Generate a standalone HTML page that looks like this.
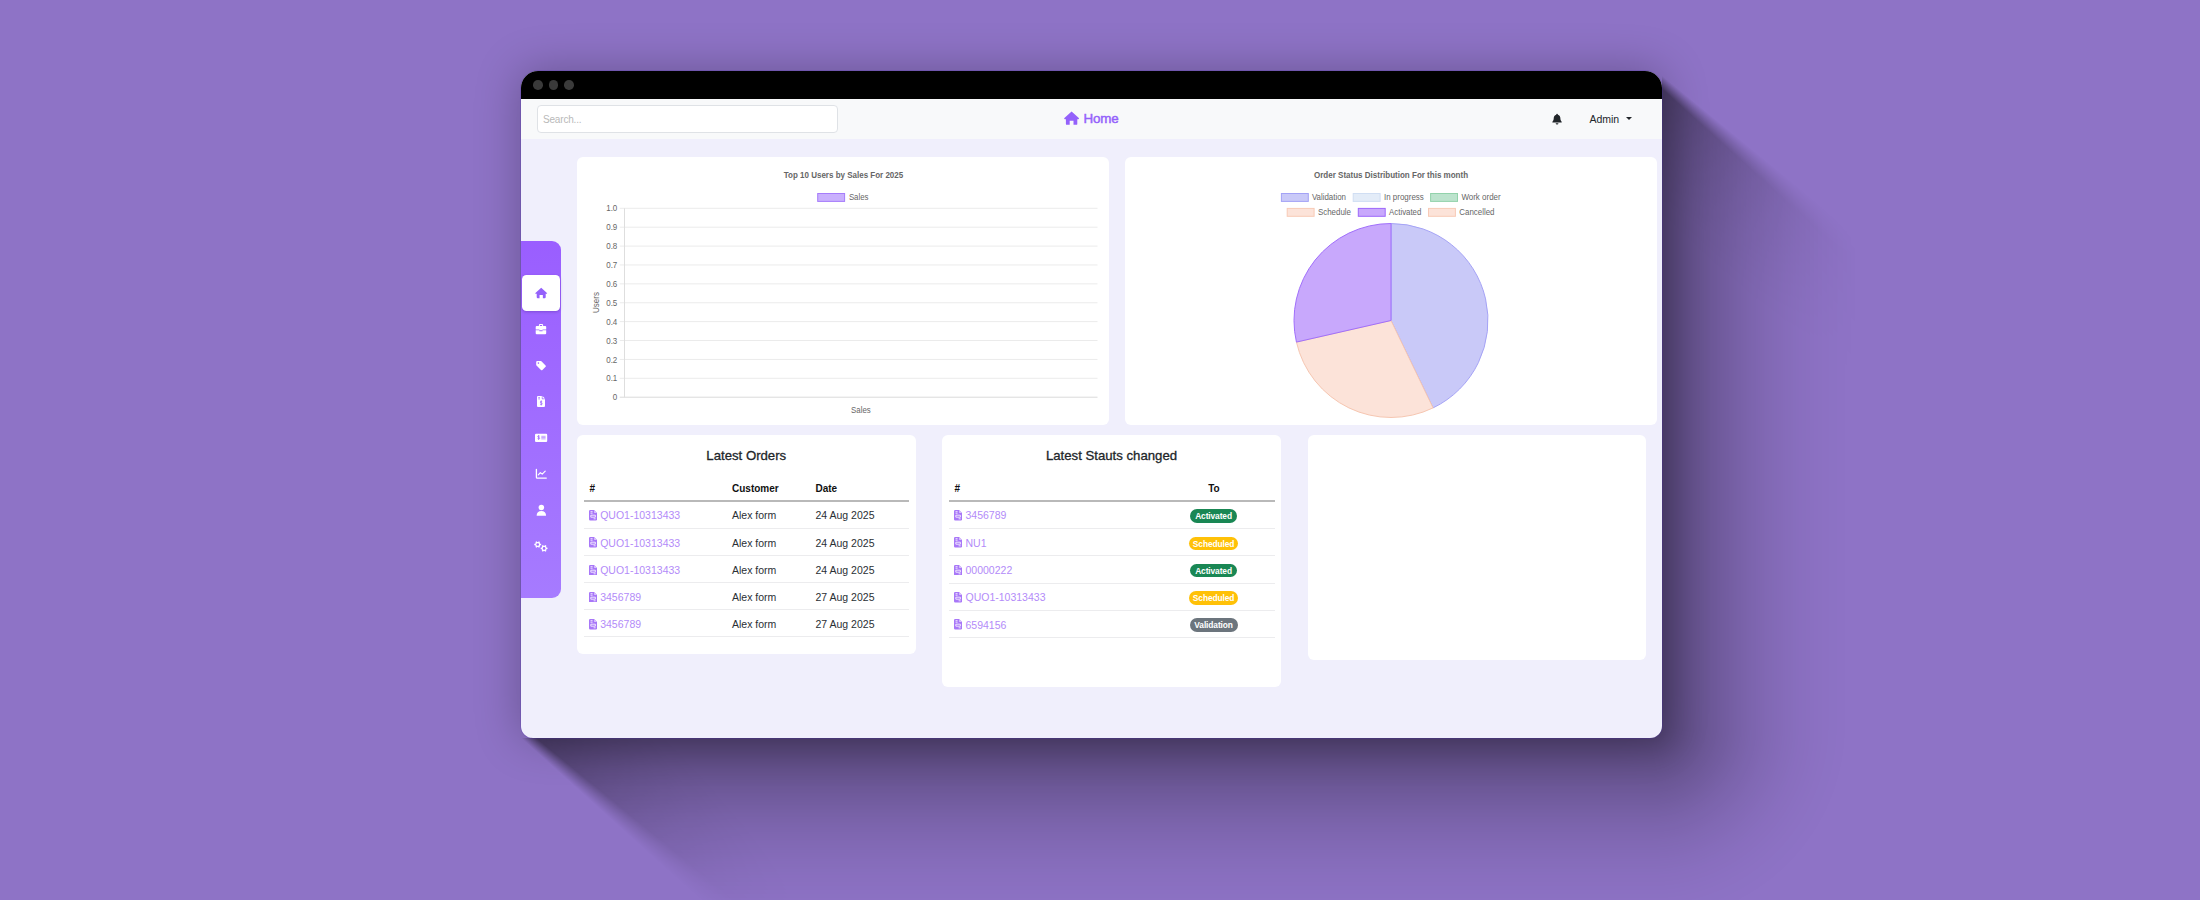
<!DOCTYPE html>
<html>
<head>
<meta charset="utf-8">
<style>
*{box-sizing:border-box;margin:0;padding:0}
html,body{width:2200px;height:900px;overflow:hidden}
body{background:#8e73c6;font-family:"Liberation Sans",sans-serif;position:relative}
#shadow{position:absolute;left:0;top:0;width:2200px;height:900px}
#win{position:absolute;left:521px;top:71px;width:1141px;height:667px;border-radius:17px 17px 12px 12px;overflow:hidden;background:#f0effc}
#edge{position:absolute;left:521px;top:71px;width:1141px;height:667px;border-radius:17px 17px 12px 12px;box-shadow:0 0 0 .7px rgba(72,44,180,.3)}
#tbar{position:absolute;left:0;top:0;width:100%;height:28px;background:#000}
.dot{position:absolute;top:9.15px;width:9.7px;height:9.7px;border-radius:50%;background:#3a3a3a}
#hdr{position:absolute;left:0;top:28px;width:100%;height:40px;background:#f8f9fa}
#search{position:absolute;left:16px;top:6.3px;width:301px;height:27.4px;border:1px solid #dfe2e6;border-radius:4px;background:#fff;color:#b9b9b9;font-size:10px;letter-spacing:-.18px;line-height:27.6px;padding-left:5px}
#home{position:absolute;left:562.4px;top:10px;height:20px;color:#9461fb;font-size:13.4px;letter-spacing:-.1px;-webkit-text-stroke:.45px #9461fb;line-height:20px;white-space:nowrap}
#side{position:absolute;left:0;top:170px;width:40px;height:357px;border-radius:0 9px 9px 0;background:linear-gradient(180deg,#9a5eff 0%,#a67bff 100%)}
#side .act{position:absolute;left:1px;top:34px;width:38px;height:36px;background:#fff;border-radius:4.5px;box-shadow:0 1px 3px rgba(60,20,120,.3)}
#side svg{position:absolute}
.card{position:absolute;background:#fff;border-radius:6px}
.t{position:absolute;white-space:nowrap;line-height:14px;height:14px;font-size:10.5px;color:#2a2f34}
.h{font-weight:bold;color:#111;font-size:10px;margin-top:.6px}
.lk{color:#b38bf9}
.ttl{position:absolute;white-space:nowrap;font-size:13.2px;line-height:18px;height:18px;color:#212529;text-align:center;-webkit-text-stroke:.3px #212529}
.ln{position:absolute;height:1px;background:#ececee}
.hl{position:absolute;height:2px;background:#b9b9b9}
.bd{position:absolute;height:13.5px;border-radius:7px;color:#fff;font-size:8.4px;letter-spacing:-.1px;font-weight:bold;line-height:15px;text-align:center;white-space:nowrap}
.ic{position:absolute}
</style>
</head>
<body>
<div style="position:absolute;left:521px;top:71px;width:1141px;height:667px;border-radius:17px 17px 12px 12px;box-shadow:0 0 44px 2px rgba(0,0,0,.25)"></div><div style="position:absolute;left:0;top:0;width:2200px;height:900px;-webkit-mask-image:conic-gradient(from 0deg at 1507.2px -51px,transparent 0deg,transparent 129.3deg,#000 132.1deg,#000 360deg);mask-image:conic-gradient(from 0deg at 1507.2px -51px,transparent 0deg,transparent 129.3deg,#000 132.1deg,#000 360deg);"><div style="position:absolute;left:0;top:0;width:2200px;height:900px;-webkit-mask-image:conic-gradient(from 0deg at 376px 606.8px,#000 0deg,#000 129.3deg,transparent 132.1deg,transparent 360deg);mask-image:conic-gradient(from 0deg at 376px 606.8px,#000 0deg,#000 129.3deg,transparent 132.1deg,transparent 360deg);"><div style="position:absolute;left:1642px;top:71px;width:217px;height:655px;clip-path:polygon(20px 0,100% 0,100% 100%,0 100%,0 14px,20px 14px);background:linear-gradient(to right,rgba(0,0,0,0.42) 0px,rgba(0,0,0,0.4200) 20.0px,rgba(0,0,0,0.3857) 28.1px,rgba(0,0,0,0.3529) 36.2px,rgba(0,0,0,0.3216) 44.4px,rgba(0,0,0,0.2917) 52.5px,rgba(0,0,0,0.2632) 60.6px,rgba(0,0,0,0.2362) 68.8px,rgba(0,0,0,0.2107) 76.9px,rgba(0,0,0,0.1867) 85.0px,rgba(0,0,0,0.1641) 93.1px,rgba(0,0,0,0.1429) 101.2px,rgba(0,0,0,0.1232) 109.4px,rgba(0,0,0,0.1050) 117.5px,rgba(0,0,0,0.0882) 125.6px,rgba(0,0,0,0.0729) 133.8px,rgba(0,0,0,0.0591) 141.9px,rgba(0,0,0,0.0467) 150.0px,rgba(0,0,0,0.0357) 158.1px,rgba(0,0,0,0.0262) 166.2px,rgba(0,0,0,0.0182) 174.4px,rgba(0,0,0,0.0117) 182.5px,rgba(0,0,0,0.0066) 190.6px,rgba(0,0,0,0.0029) 198.8px,rgba(0,0,0,0.0007) 206.9px,rgba(0,0,0,0.0000) 215.0px)"></div><div style="position:absolute;left:521px;top:718px;width:1129px;height:182px;clip-path:polygon(10px 0,100% 0,100% 100%,0 100%,0 20px,10px 20px);background:linear-gradient(to bottom,rgba(0,0,0,0.42) 0px,rgba(0,0,0,0.4200) 20.0px,rgba(0,0,0,0.3857) 28.1px,rgba(0,0,0,0.3529) 36.2px,rgba(0,0,0,0.3216) 44.4px,rgba(0,0,0,0.2917) 52.5px,rgba(0,0,0,0.2632) 60.6px,rgba(0,0,0,0.2362) 68.8px,rgba(0,0,0,0.2107) 76.9px,rgba(0,0,0,0.1867) 85.0px,rgba(0,0,0,0.1641) 93.1px,rgba(0,0,0,0.1429) 101.2px,rgba(0,0,0,0.1232) 109.4px,rgba(0,0,0,0.1050) 117.5px,rgba(0,0,0,0.0882) 125.6px,rgba(0,0,0,0.0729) 133.8px,rgba(0,0,0,0.0591) 141.9px,rgba(0,0,0,0.0467) 150.0px,rgba(0,0,0,0.0357) 158.1px,rgba(0,0,0,0.0262) 166.2px,rgba(0,0,0,0.0182) 174.4px,rgba(0,0,0,0.0117) 182.5px,rgba(0,0,0,0.0066) 190.6px,rgba(0,0,0,0.0029) 198.8px,rgba(0,0,0,0.0007) 206.9px,rgba(0,0,0,0.0000) 215.0px)"></div><div style="position:absolute;left:1650px;top:726px;width:209px;height:174px;background:radial-gradient(circle at 0 0,rgba(0,0,0,0.42) 0px,rgba(0,0,0,0.4200) 12.0px,rgba(0,0,0,0.3857) 20.1px,rgba(0,0,0,0.3529) 28.2px,rgba(0,0,0,0.3216) 36.4px,rgba(0,0,0,0.2917) 44.5px,rgba(0,0,0,0.2632) 52.6px,rgba(0,0,0,0.2362) 60.8px,rgba(0,0,0,0.2107) 68.9px,rgba(0,0,0,0.1867) 77.0px,rgba(0,0,0,0.1641) 85.1px,rgba(0,0,0,0.1429) 93.2px,rgba(0,0,0,0.1232) 101.4px,rgba(0,0,0,0.1050) 109.5px,rgba(0,0,0,0.0882) 117.6px,rgba(0,0,0,0.0729) 125.8px,rgba(0,0,0,0.0591) 133.9px,rgba(0,0,0,0.0467) 142.0px,rgba(0,0,0,0.0357) 150.1px,rgba(0,0,0,0.0262) 158.2px,rgba(0,0,0,0.0182) 166.4px,rgba(0,0,0,0.0117) 174.5px,rgba(0,0,0,0.0066) 182.6px,rgba(0,0,0,0.0029) 190.8px,rgba(0,0,0,0.0007) 198.9px,rgba(0,0,0,0.0000) 207.0px)"></div><div style="position:absolute;left:0;top:0;width:2200px;height:900px;-webkit-mask-image:linear-gradient(225deg,rgba(0,0,0,1.000) 430.6px,rgba(0,0,0,0.845) 442.1px,rgba(0,0,0,0.700) 453.6px,rgba(0,0,0,0.565) 465.1px,rgba(0,0,0,0.442) 476.6px,rgba(0,0,0,0.330) 488.1px,rgba(0,0,0,0.231) 499.6px,rgba(0,0,0,0.146) 511.1px,rgba(0,0,0,0.076) 522.6px,rgba(0,0,0,0.025) 534.1px,rgba(0,0,0,0.000) 545.6px);mask-image:linear-gradient(225deg,rgba(0,0,0,1.000) 430.6px,rgba(0,0,0,0.845) 442.1px,rgba(0,0,0,0.700) 453.6px,rgba(0,0,0,0.565) 465.1px,rgba(0,0,0,0.442) 476.6px,rgba(0,0,0,0.330) 488.1px,rgba(0,0,0,0.231) 499.6px,rgba(0,0,0,0.146) 511.1px,rgba(0,0,0,0.076) 522.6px,rgba(0,0,0,0.025) 534.1px,rgba(0,0,0,0.000) 545.6px);"><div style="position:absolute;left:1642px;top:71px;width:217px;height:829px;clip-path:polygon(20px 0,100% 0,100% 100%,0 100%,0 14px,20px 14px);background:linear-gradient(to right,rgba(0,0,0,0.17) 0px,rgba(0,0,0,0.1700) 20.0px,rgba(0,0,0,0.1558) 36.2px,rgba(0,0,0,0.1417) 52.5px,rgba(0,0,0,0.1275) 68.8px,rgba(0,0,0,0.1133) 85.0px,rgba(0,0,0,0.0992) 101.2px,rgba(0,0,0,0.0850) 117.5px,rgba(0,0,0,0.0708) 133.8px,rgba(0,0,0,0.0567) 150.0px,rgba(0,0,0,0.0425) 166.2px,rgba(0,0,0,0.0283) 182.5px,rgba(0,0,0,0.0142) 198.8px,rgba(0,0,0,0.0000) 215.0px)"></div></div><div style="position:absolute;left:0;top:0;width:2200px;height:900px;-webkit-mask-image:linear-gradient(45deg,rgba(0,0,0,1.000) 483.4px,rgba(0,0,0,0.845) 494.9px,rgba(0,0,0,0.700) 506.4px,rgba(0,0,0,0.565) 517.9px,rgba(0,0,0,0.442) 529.4px,rgba(0,0,0,0.330) 540.9px,rgba(0,0,0,0.231) 552.4px,rgba(0,0,0,0.146) 563.9px,rgba(0,0,0,0.076) 575.4px,rgba(0,0,0,0.025) 586.9px,rgba(0,0,0,0.000) 598.4px);mask-image:linear-gradient(45deg,rgba(0,0,0,1.000) 483.4px,rgba(0,0,0,0.845) 494.9px,rgba(0,0,0,0.700) 506.4px,rgba(0,0,0,0.565) 517.9px,rgba(0,0,0,0.442) 529.4px,rgba(0,0,0,0.330) 540.9px,rgba(0,0,0,0.231) 552.4px,rgba(0,0,0,0.146) 563.9px,rgba(0,0,0,0.076) 575.4px,rgba(0,0,0,0.025) 586.9px,rgba(0,0,0,0.000) 598.4px);"><div style="position:absolute;left:521px;top:718px;width:1400px;height:182px;clip-path:polygon(10px 0,100% 0,100% 100%,0 100%,0 20px,10px 20px);background:linear-gradient(to bottom,rgba(0,0,0,0.17) 0px,rgba(0,0,0,0.1700) 20.0px,rgba(0,0,0,0.1558) 36.2px,rgba(0,0,0,0.1417) 52.5px,rgba(0,0,0,0.1275) 68.8px,rgba(0,0,0,0.1133) 85.0px,rgba(0,0,0,0.0992) 101.2px,rgba(0,0,0,0.0850) 117.5px,rgba(0,0,0,0.0708) 133.8px,rgba(0,0,0,0.0567) 150.0px,rgba(0,0,0,0.0425) 166.2px,rgba(0,0,0,0.0283) 182.5px,rgba(0,0,0,0.0142) 198.8px,rgba(0,0,0,0.0000) 215.0px)"></div></div></div></div>
<div id="edge"></div>
<div id="win">
<div id="tbar"><div class="dot" style="left:11.85px"></div><div class="dot" style="left:27.6px"></div><div class="dot" style="left:43.35px"></div></div>
<div id="hdr">
<div id="search">Search...</div>
<div id="home"><svg style="position:absolute;left:-19.5px;top:1.9px" width="15.2" height="14.1" viewBox="0 0 16 14" preserveAspectRatio="none"><path d="M8 .4 15.600 7a.7.7 0 0 1-.5 1.200H14v4.600a.9.9 0 0 1-.9.9H10V9.600H6v4.100H2.900a.9.9 0 0 1-.9-.9V8.200H.9A.7.7 0 0 1 .4 7z" fill="#9461fb"/></svg>Home</div>
<svg style="position:absolute;left:1030px;top:13px" width="12" height="13" viewBox="1551 112 12 13"><path d="M1557.050 113.700c.5 0 .8.300.8.700v.3c1.600.4 2.500 1.700 2.500 3.400 0 2 .6 3 1.300 3.600.3.300.1.900-.4.900h-8.400c-.5 0-.7-.6-.4-.9.700-.600 1.300-1.600 1.300-3.600 0-1.700.9-3 2.500-3.400v-.3c0-.4.300-.7.800-.7z" fill="#212529"/><path d="M1555.650 123.200h2.800a1.400 1.400 0 0 1-2.800 0z" fill="#212529"/></svg>
<div style="position:absolute;left:1068.500px;top:13.400px;font-size:10.500px;line-height:14px;color:#212529;white-space:nowrap;letter-spacing:-.05px">Admin</div>
<div style="position:absolute;left:1105.200px;top:18.400px;width:0;height:0;border-left:3px solid transparent;border-right:3px solid transparent;border-top:3.200px solid #212529"></div>
</div>
<div id="side"><div class="act"></div><svg style="left:0;top:0" width="40" height="357" viewBox="521 241 40 357">
<g transform="translate(535.2 287.5) scale(0.75 0.771)"><path d="M8 .3 15.700 7a.7.7 0 0 1-.5 1.200H14v4.600a1 1 0 0 1-1 1H10.200V9.700H5.800v4.100H3a1 1 0 0 1-1-1V8.200H.8A.7.7 0 0 1 .3 7z" fill="#9461fb"/></g>
<g fill="#fff"><path d="M538.900 326.300v-1.300a1.100 1.100 0 0 1 1.100-1.100h2a1.100 1.100 0 0 1 1.100 1.100v1.300h-1v-1.200a.2.200 0 0 0-.2-.2h-1.800a.2.200 0 0 0-.2.200v1.200z"/><path d="M536.700 326.100h8.500a1 1 0 0 1 1 1v2.300h-3.700v.9h-3.100v-.9h-3.700v-2.300a1 1 0 0 1 1-1z"/><path d="M535.700 330.300h3.700v.9h3.100v-.9h3.700v2.900a1 1 0 0 1-1 1h-8.500a1 1 0 0 1-1-1z"/></g>
<path d="M536.200 361.900a1 1 0 0 1 1-1h3.500a1 1 0 0 1 .7.300l4.200 4.200a1 1 0 0 1 0 1.400l-3.200 3.200a1 1 0 0 1-1.400 0l-4.500-4.500a1 1 0 0 1-.3-.7z" fill="#fff"/><circle cx="538.4" cy="363.1" r=".8" fill="#9d65ff"/>
<path d="M538 396.100h3.800v2.300a.9.900 0 0 0 .9.900h2.300v6.700a1 1 0 0 1-1 1h-6a1 1 0 0 1-1-1v-8.900a1 1 0 0 1 1-1z" fill="#fff"/><path d="M542.500 396.100l2.500 2.500h-2.200a.3.300 0 0 1-.3-.3z" fill="#fff"/>
<path d="M538.200 397.600h1.800M538.200 398.900h1.800" stroke="#9d65ff" stroke-width=".7" fill="none"/>
<path d="M542.200 401.700c-.3-.5-1.900-.6-1.900.4 0 1.100 2 .6 2 1.700 0 1-1.700 1-2.100.3M541.200 400.500v4.900" stroke="#9d65ff" stroke-width=".8" fill="none"/>
<rect x="535" y="433.800" width="12.200" height="8.200" rx="1.100" fill="#fff"/>
<path d="M539.600 436.300c-.3-.5-1.900-.6-1.900.3 0 1 2 .6 2 1.600 0 .9-1.700.9-2.100.3M538.600 435.200v4.600" stroke="#9d65ff" stroke-width=".8" fill="none"/>
<path d="M541.300 436.300h4.300M541.300 437.600h4.300M541.300 438.900h4.300" stroke="#9d65ff" stroke-width=".75" fill="none" opacity=".85"/>
<path d="M536.400 469.300v7.900a.9.900 0 0 0 .9.900h9" stroke="#fff" stroke-width="1.300" fill="none" stroke-linecap="round"/>
<path d="M538.300 474.900l2.100-2.300 1.800 1.500 3-3" stroke="#fff" stroke-width="1.200" fill="none" stroke-linecap="round" stroke-linejoin="round"/>
<circle cx="541.350" cy="507.500" r="2.750" fill="#fff"/><path d="M536.600 515.700c0-2.800 1.800-4.600 4.750-4.600s4.750 1.800 4.750 4.600z" fill="#fff"/>
<path d="M541.13 543.80L541.13 545.20L540.17 545.33L539.65 546.22L540.02 547.12L538.81 547.82L538.22 547.05L537.18 547.05L536.59 547.82L535.38 547.12L535.75 546.22L535.23 545.33L534.27 545.20L534.27 543.80L535.23 543.67L535.75 542.78L535.38 541.88L536.59 541.18L537.18 541.95L538.22 541.95L538.81 541.18L540.02 541.88L539.65 542.78L540.17 543.67Z" fill="#fff"/><circle cx="537.7" cy="544.5" r="1.3" fill="#9d65ff"/>
<path d="M547.53 547.70L547.53 549.10L546.57 549.23L546.05 550.12L546.42 551.02L545.21 551.72L544.62 550.95L543.58 550.95L542.99 551.72L541.78 551.02L542.15 550.12L541.63 549.23L540.67 549.10L540.67 547.70L541.63 547.57L542.15 546.68L541.78 545.78L542.99 545.08L543.58 545.85L544.62 545.85L545.21 545.08L546.42 545.78L546.05 546.68L546.57 547.57Z" fill="#fff"/><circle cx="544.1" cy="548.4" r="1.3" fill="#9d65ff"/>
</svg></div>
<div class="card" style="left:56.0px;top:86.0px;width:532.0px;height:267.6px"></div>
<div class="card" style="left:604.0px;top:86.0px;width:531.6px;height:267.6px"></div>
<div class="card" style="left:56.0px;top:364.0px;width:338.5px;height:219.0px"></div>
<div class="card" style="left:421.0px;top:364.0px;width:339.0px;height:252.0px"></div>
<div class="card" style="left:786.5px;top:364.0px;width:338.5px;height:224.5px"></div>
<div class="ttl" style="left:56px;top:375.7px;width:338.5px">Latest Orders</div>
<div class="t h" style="left:68.4px;top:410.3px;">#</div>
<div class="t h" style="left:211.0px;top:410.3px;">Customer</div>
<div class="t h" style="left:294.5px;top:410.3px;">Date</div>
<div class="hl" style="left:63px;top:429px;width:325px"></div>
<svg class="ic" style="left:68.2px;top:439.1px" width="8.2" height="10.5" viewBox="0 0 8 10.5" preserveAspectRatio="none"><path d="M1.200 0H5L8 3V9.300A1.200 1.200 0 0 1 6.800 10.500H1.200A1.200 1.200 0 0 1 0 9.300V1.200A1.200 1.200 0 0 1 1.200 0Z" fill="#a877f8"/><path d="M5 0V3H8Z" fill="#d9c4fc"/><path d="M1.500 1.700H3.500M1.500 3.200H3.500M1.800 5.200H6.200V7.200H1.800ZM4.500 8.800H6.500" stroke="#fff" stroke-width=".8" fill="none"/></svg>
<div class="t lk" style="left:79.2px;top:437.4px;">QUO1-10313433</div>
<div class="t " style="left:211.0px;top:437.4px;">Alex form</div>
<div class="t " style="left:294.5px;top:437.4px;">24 Aug 2025</div>
<div class="ln" style="left:63px;top:457.0px;width:325px"></div>
<svg class="ic" style="left:68.2px;top:466.3px" width="8.2" height="10.5" viewBox="0 0 8 10.5" preserveAspectRatio="none"><path d="M1.200 0H5L8 3V9.300A1.200 1.200 0 0 1 6.800 10.500H1.200A1.200 1.200 0 0 1 0 9.300V1.200A1.200 1.200 0 0 1 1.200 0Z" fill="#a877f8"/><path d="M5 0V3H8Z" fill="#d9c4fc"/><path d="M1.500 1.700H3.500M1.500 3.200H3.500M1.800 5.200H6.200V7.200H1.800ZM4.500 8.800H6.500" stroke="#fff" stroke-width=".8" fill="none"/></svg>
<div class="t lk" style="left:79.2px;top:464.6px;">QUO1-10313433</div>
<div class="t " style="left:211.0px;top:464.6px;">Alex form</div>
<div class="t " style="left:294.5px;top:464.6px;">24 Aug 2025</div>
<div class="ln" style="left:63px;top:484.0px;width:325px"></div>
<svg class="ic" style="left:68.2px;top:493.6px" width="8.2" height="10.5" viewBox="0 0 8 10.5" preserveAspectRatio="none"><path d="M1.200 0H5L8 3V9.300A1.200 1.200 0 0 1 6.800 10.500H1.200A1.200 1.200 0 0 1 0 9.300V1.200A1.200 1.200 0 0 1 1.200 0Z" fill="#a877f8"/><path d="M5 0V3H8Z" fill="#d9c4fc"/><path d="M1.500 1.700H3.500M1.500 3.200H3.500M1.800 5.200H6.200V7.200H1.800ZM4.500 8.800H6.500" stroke="#fff" stroke-width=".8" fill="none"/></svg>
<div class="t lk" style="left:79.2px;top:491.9px;">QUO1-10313433</div>
<div class="t " style="left:211.0px;top:491.9px;">Alex form</div>
<div class="t " style="left:294.5px;top:491.9px;">24 Aug 2025</div>
<div class="ln" style="left:63px;top:511.0px;width:325px"></div>
<svg class="ic" style="left:68.2px;top:520.9px" width="8.2" height="10.5" viewBox="0 0 8 10.5" preserveAspectRatio="none"><path d="M1.200 0H5L8 3V9.300A1.200 1.200 0 0 1 6.800 10.500H1.200A1.200 1.200 0 0 1 0 9.300V1.200A1.200 1.200 0 0 1 1.200 0Z" fill="#a877f8"/><path d="M5 0V3H8Z" fill="#d9c4fc"/><path d="M1.500 1.700H3.500M1.500 3.200H3.500M1.800 5.200H6.200V7.200H1.800ZM4.500 8.800H6.500" stroke="#fff" stroke-width=".8" fill="none"/></svg>
<div class="t lk" style="left:79.2px;top:519.2px;">3456789</div>
<div class="t " style="left:211.0px;top:519.2px;">Alex form</div>
<div class="t " style="left:294.5px;top:519.2px;">27 Aug 2025</div>
<div class="ln" style="left:63px;top:538.0px;width:325px"></div>
<svg class="ic" style="left:68.2px;top:548.1px" width="8.2" height="10.5" viewBox="0 0 8 10.5" preserveAspectRatio="none"><path d="M1.200 0H5L8 3V9.300A1.200 1.200 0 0 1 6.800 10.500H1.200A1.200 1.200 0 0 1 0 9.300V1.200A1.200 1.200 0 0 1 1.200 0Z" fill="#a877f8"/><path d="M5 0V3H8Z" fill="#d9c4fc"/><path d="M1.500 1.700H3.500M1.500 3.200H3.500M1.800 5.200H6.200V7.200H1.800ZM4.500 8.800H6.500" stroke="#fff" stroke-width=".8" fill="none"/></svg>
<div class="t lk" style="left:79.2px;top:546.4px;">3456789</div>
<div class="t " style="left:211.0px;top:546.4px;">Alex form</div>
<div class="t " style="left:294.5px;top:546.4px;">27 Aug 2025</div>
<div class="ln" style="left:63px;top:565.0px;width:325px"></div>
<div class="ttl" style="left:421px;top:375.7px;width:339px">Latest Stauts changed</div>
<div class="t h" style="left:433.4px;top:410.3px;">#</div>
<div class="t h" style="left:687.2px;top:410.3px;">To</div>
<div class="hl" style="left:428px;top:429px;width:325.5px"></div>
<svg class="ic" style="left:433.2px;top:439.1px" width="8.2" height="10.5" viewBox="0 0 8 10.5" preserveAspectRatio="none"><path d="M1.200 0H5L8 3V9.300A1.200 1.200 0 0 1 6.800 10.500H1.200A1.200 1.200 0 0 1 0 9.300V1.200A1.200 1.200 0 0 1 1.200 0Z" fill="#a877f8"/><path d="M5 0V3H8Z" fill="#d9c4fc"/><path d="M1.500 1.700H3.500M1.500 3.200H3.500M1.800 5.200H6.200V7.200H1.800ZM4.500 8.800H6.500" stroke="#fff" stroke-width=".8" fill="none"/></svg>
<div class="t lk" style="left:444.5px;top:437.4px;">3456789</div>
<div class="bd" style="left:669.3px;top:438.2px;width:46.5px;background:#198754">Activated</div>
<div class="ln" style="left:428px;top:457.0px;width:325.5px"></div>
<svg class="ic" style="left:433.2px;top:466.4px" width="8.2" height="10.5" viewBox="0 0 8 10.5" preserveAspectRatio="none"><path d="M1.200 0H5L8 3V9.300A1.200 1.200 0 0 1 6.800 10.500H1.200A1.200 1.200 0 0 1 0 9.300V1.200A1.200 1.200 0 0 1 1.200 0Z" fill="#a877f8"/><path d="M5 0V3H8Z" fill="#d9c4fc"/><path d="M1.500 1.700H3.500M1.500 3.200H3.500M1.800 5.200H6.200V7.200H1.800ZM4.500 8.800H6.500" stroke="#fff" stroke-width=".8" fill="none"/></svg>
<div class="t lk" style="left:444.5px;top:464.6px;">NU1</div>
<div class="bd" style="left:668.1px;top:465.5px;width:49px;background:#ffc107">Scheduled</div>
<div class="ln" style="left:428px;top:484.3px;width:325.5px"></div>
<svg class="ic" style="left:433.2px;top:493.7px" width="8.2" height="10.5" viewBox="0 0 8 10.5" preserveAspectRatio="none"><path d="M1.200 0H5L8 3V9.300A1.200 1.200 0 0 1 6.800 10.500H1.200A1.200 1.200 0 0 1 0 9.300V1.200A1.200 1.200 0 0 1 1.200 0Z" fill="#a877f8"/><path d="M5 0V3H8Z" fill="#d9c4fc"/><path d="M1.500 1.700H3.500M1.500 3.200H3.500M1.800 5.200H6.200V7.200H1.800ZM4.500 8.800H6.500" stroke="#fff" stroke-width=".8" fill="none"/></svg>
<div class="t lk" style="left:444.5px;top:492.0px;">00000222</div>
<div class="bd" style="left:669.3px;top:492.8px;width:46.5px;background:#198754">Activated</div>
<div class="ln" style="left:428px;top:511.6px;width:325.5px"></div>
<svg class="ic" style="left:433.2px;top:521.0px" width="8.2" height="10.5" viewBox="0 0 8 10.5" preserveAspectRatio="none"><path d="M1.200 0H5L8 3V9.300A1.200 1.200 0 0 1 6.800 10.500H1.200A1.200 1.200 0 0 1 0 9.300V1.200A1.200 1.200 0 0 1 1.200 0Z" fill="#a877f8"/><path d="M5 0V3H8Z" fill="#d9c4fc"/><path d="M1.500 1.700H3.500M1.500 3.200H3.500M1.800 5.200H6.200V7.200H1.800ZM4.500 8.800H6.500" stroke="#fff" stroke-width=".8" fill="none"/></svg>
<div class="t lk" style="left:444.5px;top:519.2px;">QUO1-10313433</div>
<div class="bd" style="left:668.1px;top:520.1px;width:49px;background:#ffc107">Scheduled</div>
<div class="ln" style="left:428px;top:538.9px;width:325.5px"></div>
<svg class="ic" style="left:433.2px;top:548.3px" width="8.2" height="10.5" viewBox="0 0 8 10.5" preserveAspectRatio="none"><path d="M1.200 0H5L8 3V9.300A1.200 1.200 0 0 1 6.800 10.500H1.200A1.200 1.200 0 0 1 0 9.300V1.200A1.200 1.200 0 0 1 1.200 0Z" fill="#a877f8"/><path d="M5 0V3H8Z" fill="#d9c4fc"/><path d="M1.500 1.700H3.500M1.500 3.200H3.500M1.800 5.200H6.200V7.200H1.800ZM4.500 8.800H6.500" stroke="#fff" stroke-width=".8" fill="none"/></svg>
<div class="t lk" style="left:444.5px;top:546.6px;">6594156</div>
<div class="bd" style="left:668.5px;top:547.4px;width:48.2px;background:#6c757d">Validation</div>
<div class="ln" style="left:428px;top:566.2px;width:325.5px"></div>
</div>
<svg id="charts" style="position:absolute;left:0;top:0;z-index:5" width="2200" height="900" viewBox="0 0 2200 900" font-family="Liberation Sans, sans-serif" font-size="8.8" fill="#666">
<text x="783.8" y="177.6" textLength="119.4" lengthAdjust="spacingAndGlyphs" font-weight="bold">Top 10 Users by Sales For 2025</text>
<rect x="817.7" y="193.5" width="26.9" height="7.9" fill="#c9b0fd" stroke="#a67cfb" stroke-width="1"/>
<text x="848.9" y="200.1" textLength="19.6" lengthAdjust="spacingAndGlyphs">Sales</text>
<line x1="619.7" y1="208.30" x2="1097.5" y2="208.30" stroke="#ebebeb" stroke-width="1"/>
<text x="617.3" y="211.45" text-anchor="end" textLength="11.1" lengthAdjust="spacingAndGlyphs">1.0</text>
<line x1="619.7" y1="227.19" x2="1097.5" y2="227.19" stroke="#ebebeb" stroke-width="1"/>
<text x="617.3" y="230.34" text-anchor="end" textLength="11.1" lengthAdjust="spacingAndGlyphs">0.9</text>
<line x1="619.7" y1="246.08" x2="1097.5" y2="246.08" stroke="#ebebeb" stroke-width="1"/>
<text x="617.3" y="249.23" text-anchor="end" textLength="11.1" lengthAdjust="spacingAndGlyphs">0.8</text>
<line x1="619.7" y1="264.97" x2="1097.5" y2="264.97" stroke="#ebebeb" stroke-width="1"/>
<text x="617.3" y="268.12" text-anchor="end" textLength="11.1" lengthAdjust="spacingAndGlyphs">0.7</text>
<line x1="619.7" y1="283.86" x2="1097.5" y2="283.86" stroke="#ebebeb" stroke-width="1"/>
<text x="617.3" y="287.01" text-anchor="end" textLength="11.1" lengthAdjust="spacingAndGlyphs">0.6</text>
<line x1="619.7" y1="302.75" x2="1097.5" y2="302.75" stroke="#ebebeb" stroke-width="1"/>
<text x="617.3" y="305.90" text-anchor="end" textLength="11.1" lengthAdjust="spacingAndGlyphs">0.5</text>
<line x1="619.7" y1="321.64" x2="1097.5" y2="321.64" stroke="#ebebeb" stroke-width="1"/>
<text x="617.3" y="324.79" text-anchor="end" textLength="11.1" lengthAdjust="spacingAndGlyphs">0.4</text>
<line x1="619.7" y1="340.53" x2="1097.5" y2="340.53" stroke="#ebebeb" stroke-width="1"/>
<text x="617.3" y="343.68" text-anchor="end" textLength="11.1" lengthAdjust="spacingAndGlyphs">0.3</text>
<line x1="619.7" y1="359.42" x2="1097.5" y2="359.42" stroke="#ebebeb" stroke-width="1"/>
<text x="617.3" y="362.57" text-anchor="end" textLength="11.1" lengthAdjust="spacingAndGlyphs">0.2</text>
<line x1="619.7" y1="378.31" x2="1097.5" y2="378.31" stroke="#ebebeb" stroke-width="1"/>
<text x="617.3" y="381.46" text-anchor="end" textLength="11.1" lengthAdjust="spacingAndGlyphs">0.1</text>
<line x1="619.7" y1="397.20" x2="1097.5" y2="397.20" stroke="#dadada" stroke-width="1"/>
<text x="617.3" y="400.35" text-anchor="end" textLength="4.45" lengthAdjust="spacingAndGlyphs">0</text>
<line x1="624.5" y1="208.3" x2="624.5" y2="397.2" stroke="#dedede" stroke-width="1"/>
<text transform="translate(599.1 302.5) rotate(-90)" text-anchor="middle" textLength="20.9" lengthAdjust="spacingAndGlyphs">Users</text>
<text x="851.1" y="412.7" textLength="19.6" lengthAdjust="spacingAndGlyphs">Sales</text>
<text x="1314" y="177.8" textLength="154.1" lengthAdjust="spacingAndGlyphs" font-weight="bold">Order Status Distribution For this month</text>
<rect x="1281.4" y="193.5" width="26.9" height="7.9" fill="#c9c9f8" stroke="#a3a2f6" stroke-width="1"/>
<text x="1311.9" y="199.9" textLength="34.1" lengthAdjust="spacingAndGlyphs">Validation</text>
<rect x="1353.2" y="193.5" width="26.9" height="7.9" fill="#e3ecf8" stroke="#d0def3" stroke-width="1"/>
<text x="1384" y="199.9" textLength="39.8" lengthAdjust="spacingAndGlyphs">In progress</text>
<rect x="1430.6" y="193.5" width="26.9" height="7.9" fill="#bce3cd" stroke="#92d2ab" stroke-width="1"/>
<text x="1461.4" y="199.9" textLength="39.3" lengthAdjust="spacingAndGlyphs">Work order</text>
<rect x="1287.2" y="208.4" width="26.9" height="7.9" fill="#fce3d9" stroke="#f8cab6" stroke-width="1"/>
<text x="1317.9" y="214.8" textLength="33.1" lengthAdjust="spacingAndGlyphs">Schedule</text>
<rect x="1358.3" y="208.4" width="26.9" height="7.9" fill="#c8a8fc" stroke="#9d68fb" stroke-width="1"/>
<text x="1389.1" y="214.8" textLength="32.2" lengthAdjust="spacingAndGlyphs">Activated</text>
<rect x="1428.5" y="208.4" width="26.9" height="7.9" fill="#fce3d9" stroke="#f8cab6" stroke-width="1"/>
<text x="1459.3" y="214.8" textLength="35.2" lengthAdjust="spacingAndGlyphs">Cancelled</text>
<path d="M1391 320.5L1391.00 223.50A97 97 0 0 1 1433.09 407.89Z" fill="#c9c9f8" stroke="#a5a3f6" stroke-width="1" stroke-linejoin="round"/>
<path d="M1391 320.5L1433.09 407.89A97 97 0 0 1 1296.43 342.08Z" fill="#fce3d9" stroke="#f6c6b1" stroke-width="1" stroke-linejoin="round"/>
<path d="M1391 320.5L1296.43 342.08A97 97 0 0 1 1391.00 223.50Z" fill="#c8a8fc" stroke="#a06ffb" stroke-width="1" stroke-linejoin="round"/>
</svg>
</body>
</html>
